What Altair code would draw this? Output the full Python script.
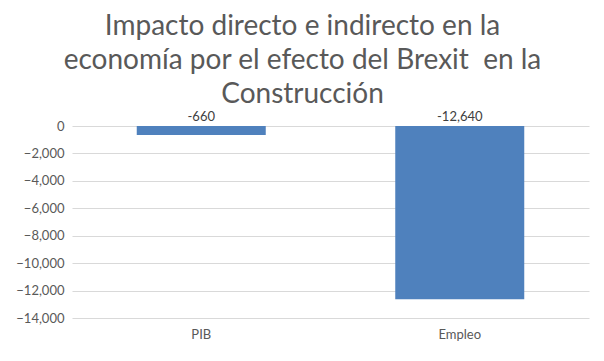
import altair as alt
import pandas as pd

categories = ["PIB", "Empleo"]
values = [-660, -12640]
labels = ["-660", "-12,640"]
y_ticks = [0, -2000, -4000, -6000, -8000, -10000, -12000, -14000]

df = pd.DataFrame({"cat": categories, "val": values, "lab": labels})

y_axis = alt.Axis(values=y_ticks, format=",.0f", domain=False, ticks=False,
                  labelOverlap=False, labelFont="Lato", labelFontSize=13, labelColor="#595959",
                  labelPadding=8, gridColor="#D9D9D9", gridWidth=1, tickCount=8)
y_scale = alt.Scale(domain=[-14000, 0], nice=False)
x_axis = alt.Axis(labelAngle=0, domain=False, ticks=False, labelFont="Lato",
                  labelFontSize=13, labelColor="#595959", labelPadding=10, grid=False)
x_scale = alt.Scale(paddingInner=0, paddingOuter=0)

base = alt.Chart(df)

bars = base.mark_bar(color="#4F81BD", size=129).encode(
    x=alt.X("cat:N", sort=categories, title=None, axis=x_axis, scale=x_scale),
    y=alt.Y("val:Q", title=None, scale=y_scale, axis=y_axis),
)

text = base.transform_calculate(zero="0").mark_text(
    font="Lato", fontSize=13, color="#404040", dy=-9).encode(
    x=alt.X("cat:N", sort=categories, title=None, axis=x_axis, scale=x_scale),
    y=alt.Y("zero:Q", title=None, scale=y_scale, axis=y_axis),
    text="lab:N",
)

chart = (bars + text).properties(
    width=517, height=192,
    title=alt.Title(
        text=["Impacto directo e indirecto en la",
              "economía por el efecto del Brexit\u00a0 en la",
              "Construcción"],
        font="Lato", fontSize=28, fontWeight="normal", color="#595959",
        lineHeight=34, anchor="middle", dx=-28, dy=10, offset=12,
    ),
    autosize=alt.AutoSizeParams(type="none"),
    padding={"left": 64, "top": 118, "right": 7, "bottom": 35},
).configure_view(stroke=None)

chart.save("out.html", embed_options={"renderer": "svg", "actions": False})
